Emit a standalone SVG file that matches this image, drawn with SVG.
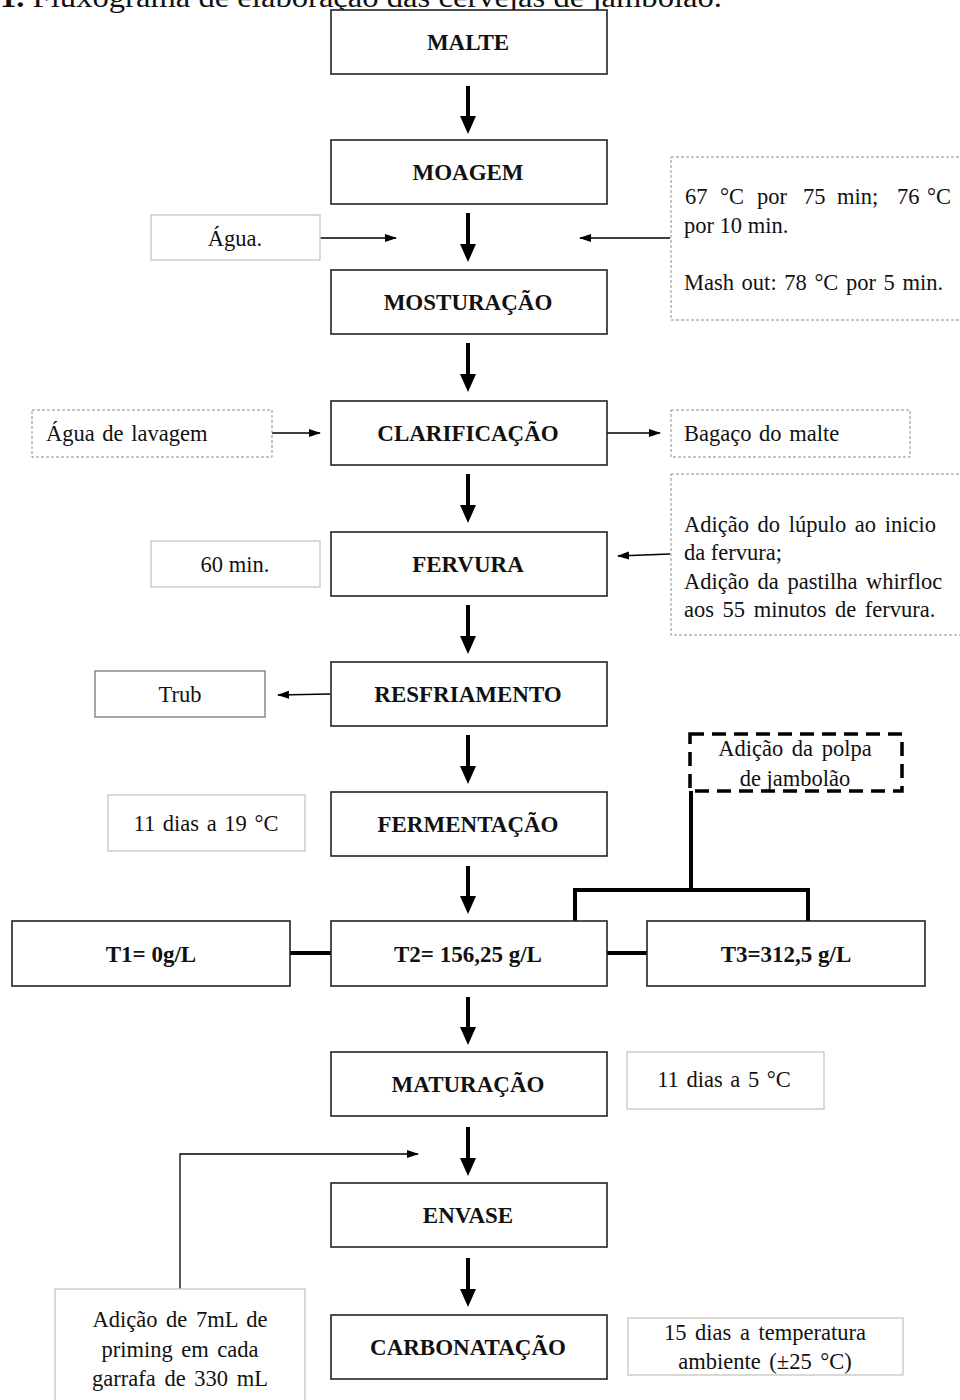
<svg xmlns="http://www.w3.org/2000/svg" width="960" height="1400" viewBox="0 0 960 1400">
<defs>
<style>
.main{fill:#fff;stroke:#222;stroke-width:1.6}
.mt{font-family:"Liberation Serif",serif;font-weight:bold;font-size:23px;fill:#111;text-anchor:middle}
.st{font-family:"Liberation Serif",serif;font-size:22.5px;fill:#111}
.stc{font-family:"Liberation Serif",serif;font-size:22.5px;fill:#111;text-anchor:middle}
.gd{fill:#fff;stroke:#7f9a70;stroke-width:1;stroke-dasharray:3 2}
.gs{fill:#fff;stroke:#c9cbbf;stroke-width:1.4}
.thick{stroke:#000;stroke-width:4;fill:none}
.thin{stroke:#000;stroke-width:1.3;fill:none}
</style>
<marker id="sm" markerUnits="userSpaceOnUse" markerWidth="12" markerHeight="10" viewBox="0 0 12 10" refX="11" refY="5" orient="auto">
<path d="M0,1 L12,5 L0,9 Z" fill="#000"/>
</marker>
</defs>
<rect width="960" height="1400" fill="#fff"/>

<text x="0" y="7" font-family="Liberation Serif,serif" font-size="29" fill="#111" textLength="722" lengthAdjust="spacingAndGlyphs"><tspan font-weight="bold">1.</tspan> Fluxograma de elaboração das cervejas de jambolão.</text>

<g id="connectors">
<line class="thick" x1="468" y1="86" x2="468" y2="117"/>
<path d="M460,116 L476,116 L468,134 Z"/>
<line class="thick" x1="468" y1="213" x2="468" y2="245"/>
<path d="M460,244 L476,244 L468,262 Z"/>
<line class="thick" x1="468" y1="343" x2="468" y2="375"/>
<path d="M460,374 L476,374 L468,392 Z"/>
<line class="thick" x1="468" y1="474" x2="468" y2="506"/>
<path d="M460,505 L476,505 L468,523 Z"/>
<line class="thick" x1="468" y1="605" x2="468" y2="637"/>
<path d="M460,636 L476,636 L468,654 Z"/>
<line class="thick" x1="468" y1="735" x2="468" y2="767"/>
<path d="M460,766 L476,766 L468,784 Z"/>
<line class="thick" x1="468" y1="866" x2="468" y2="897"/>
<path d="M460,896 L476,896 L468,914 Z"/>
<line class="thick" x1="468" y1="997" x2="468" y2="1028"/>
<path d="M460,1027 L476,1027 L468,1045 Z"/>
<line class="thick" x1="468" y1="1127" x2="468" y2="1159"/>
<path d="M460,1158 L476,1158 L468,1176 Z"/>
<line class="thick" x1="468" y1="1258" x2="468" y2="1290"/>
<path d="M460,1289 L476,1289 L468,1307 Z"/>

<line class="thin" x1="320" y1="238" x2="396" y2="238" marker-end="url(#sm)"/>
<line class="thin" x1="670" y1="238" x2="580" y2="238" marker-end="url(#sm)"/>
<line class="thin" x1="272" y1="433" x2="320" y2="433" marker-end="url(#sm)"/>
<line class="thin" x1="607" y1="433" x2="660" y2="433" marker-end="url(#sm)"/>
<line class="thin" x1="670" y1="554" x2="618" y2="556" marker-end="url(#sm)"/>
<line class="thin" x1="330" y1="694" x2="278" y2="695" marker-end="url(#sm)"/>

<polyline class="thick" points="691,791 691,890"/>
<polyline class="thick" points="575,921 575,890 808,890 808,921"/>
<line class="thick" x1="290" y1="953" x2="331" y2="953"/>
<line class="thick" x1="607" y1="953" x2="647" y2="953"/>

<polyline class="thin" points="180,1289 180,1154 418,1154" marker-end="url(#sm)"/>
</g>

<g id="malte"><rect class="main" x="331" y="10" width="276" height="64"/><text class="mt" x="468" y="50">MALTE</text></g>
<g id="moagem"><rect class="main" x="331" y="140" width="276" height="64"/><text class="mt" x="468" y="180">MOAGEM</text></g>
<g id="mosturacao"><rect class="main" x="331" y="270" width="276" height="64"/><text class="mt" x="468" y="310">MOSTURAÇÃO</text></g>
<g id="clarificacao"><rect class="main" x="331" y="401" width="276" height="64"/><text class="mt" x="468" y="441">CLARIFICAÇÃO</text></g>
<g id="fervura"><rect class="main" x="331" y="532" width="276" height="64"/><text class="mt" x="468" y="572">FERVURA</text></g>
<g id="resfriamento"><rect class="main" x="331" y="662" width="276" height="64"/><text class="mt" x="468" y="702">RESFRIAMENTO</text></g>
<g id="fermentacao"><rect class="main" x="331" y="792" width="276" height="64"/><text class="mt" x="468" y="832">FERMENTAÇÃO</text></g>
<g id="t1"><rect class="main" x="12" y="921" width="278" height="65"/><text class="mt" x="151" y="962">T1= 0g/L</text></g>
<g id="t2"><rect class="main" x="331" y="921" width="276" height="65"/><text class="mt" x="468" y="962">T2= 156,25 g/L</text></g>
<g id="t3"><rect class="main" x="647" y="921" width="278" height="65"/><text class="mt" x="786" y="962">T3=312,5 g/L</text></g>
<g id="maturacao"><rect class="main" x="331" y="1052" width="276" height="64"/><text class="mt" x="468" y="1092">MATURAÇÃO</text></g>
<g id="envase"><rect class="main" x="331" y="1183" width="276" height="64"/><text class="mt" x="468" y="1223">ENVASE</text></g>
<g id="carbonatacao"><rect class="main" x="331" y="1315" width="276" height="64"/><text class="mt" x="468" y="1355">CARBONATAÇÃO</text></g>

<g id="agua"><rect class="gs" x="151" y="215" width="169" height="45"/><text class="stc" x="235" y="246">Água.</text></g>
<g id="mostura-cond"><rect class="gd" x="671" y="157" width="295" height="163"/>
<text class="st" y="204"><tspan x="685">67</tspan><tspan x="720">°C</tspan><tspan x="757">por</tspan><tspan x="803">75</tspan><tspan x="837">min;</tspan><tspan x="897">76</tspan><tspan x="927">°C</tspan></text>
<text class="st" x="684" y="233">por 10 min.</text>
<text class="st" x="684" y="290" word-spacing="2">Mash out: 78 °C por 5 min.</text></g>
<g id="agua-lavagem"><rect class="gd" x="32" y="410" width="240" height="47"/><text class="st" x="46" y="441" word-spacing="2">Água de lavagem</text></g>
<g id="bagaco"><rect class="gd" x="671" y="410" width="239" height="47"/><text class="st" x="684" y="441" word-spacing="2">Bagaço do malte</text></g>
<g id="min60"><rect class="gs" x="151" y="541" width="169" height="46"/><text class="stc" x="235" y="572">60 min.</text></g>
<g id="lupulo"><rect class="gd" x="671" y="474" width="295" height="161"/>
<text class="st" x="684" y="532" word-spacing="3">Adição do lúpulo ao inicio</text>
<text class="st" x="684" y="560">da fervura;</text>
<text class="st" x="684" y="589" word-spacing="3">Adição da pastilha whirfloc</text>
<text class="st" x="684" y="617" word-spacing="3">aos 55 minutos de fervura.</text></g>
<g id="trub"><rect fill="#fff" stroke="#777" stroke-width="1.3" x="95" y="671" width="170" height="46"/><text class="stc" x="180" y="702">Trub</text></g>
<g id="polpa"><rect fill="none" stroke="#000" stroke-width="3.5" stroke-dasharray="14 8" x="690" y="734" width="212" height="57"/>
<text class="stc" x="795" y="756" word-spacing="3">Adição da polpa</text>
<text class="stc" x="795" y="786">de jambolão</text></g>
<g id="dias19"><rect class="gs" x="108" y="795" width="197" height="56"/><text class="stc" x="206" y="831" word-spacing="2">11 dias a 19 °C</text></g>
<g id="dias5"><rect class="gs" x="627" y="1052" width="197" height="57"/><text class="stc" x="724" y="1087" word-spacing="2">11 dias a 5 °C</text></g>
<g id="priming"><rect class="gs" x="55" y="1289" width="250" height="120"/>
<text class="stc" x="180" y="1327" word-spacing="3">Adição de 7mL de</text>
<text class="stc" x="180" y="1357" word-spacing="3">priming em cada</text>
<text class="stc" x="180" y="1386" word-spacing="3">garrafa de 330 mL</text></g>
<g id="dias15"><rect class="gs" x="628" y="1318" width="275" height="57"/>
<text class="stc" x="765" y="1340" word-spacing="3">15 dias a temperatura</text>
<text class="stc" x="765" y="1369" word-spacing="3">ambiente (±25 °C)</text></g>
</svg>
